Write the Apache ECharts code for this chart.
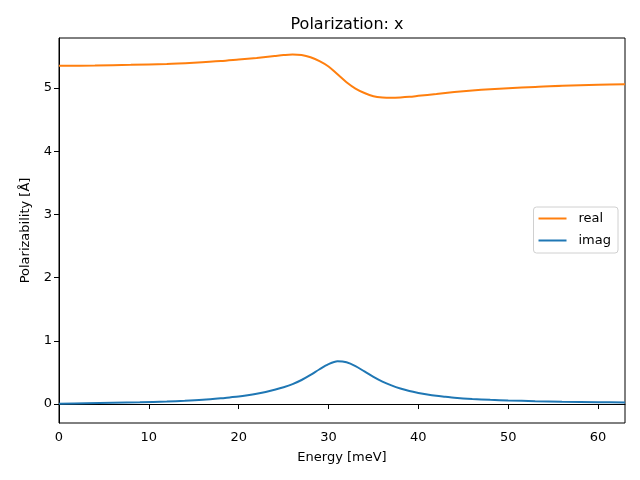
<!DOCTYPE html>
<html><head><meta charset="utf-8">
<script src="https://cdn.jsdelivr.net/npm/echarts@6/dist/echarts.min.js"></script>
<style>html,body{margin:0;padding:0;background:#fff}#c{width:640px;height:480px}</style>
</head><body><div id="c"></div>
<script>
const realE = [0,4,8,12,15,18,20,22,24,25,26,27,28,29,30,31,32,33,34,35,36,37,38,39,40,42,44,46,48,50,53,56,60,63];
const realV = [5.35,5.355,5.365,5.38,5.40,5.425,5.45,5.475,5.505,5.52,5.53,5.52,5.485,5.425,5.34,5.215,5.09,4.99,4.92,4.87,4.85,4.845,4.85,4.86,4.875,4.905,4.935,4.96,4.98,4.995,5.015,5.035,5.05,5.06];
const imagE = [0,3,6,9,12,14,16,18,19,20,21,22,23,24,25,26,27,28,29,30,31,32,33,34,35,36,37,38,39,40,41,42,43,44,46,48,50,53,56,60,63];
const imagV = [0.005,0.012,0.019,0.027,0.039,0.05,0.066,0.09,0.105,0.12,0.14,0.163,0.19,0.225,0.265,0.315,0.38,0.46,0.55,0.63,0.675,0.66,0.6,0.515,0.43,0.355,0.295,0.245,0.205,0.175,0.15,0.13,0.115,0.1,0.08,0.066,0.056,0.045,0.037,0.03,0.026];
const xTicks = [0,10,20,30,40,50,60];
const yTicks = [0,1,2,3,4,5];

const font = 'DejaVu Sans';
const chart = echarts.init(document.getElementById('c'));
chart.setOption({
  animation: false,
  backgroundColor: '#fff',
  textStyle: {fontFamily: font},
  title: {text: 'Polarization: x', left: 342, top: 12, textAlign: 'center',
    textStyle: {fontFamily: font, fontSize: 16, fontWeight: 'normal', color: '#000'}},
  grid: {left: 59, right: 15, top: 38, bottom: 57, show: true, borderColor: '#000', borderWidth: 1, containLabel: false},
  legend: {
    data: ['real', 'imag'], orient: 'vertical', right: 22, top: 207,
    itemWidth: 28, itemHeight: 2, itemGap: 9, icon: 'rect',
    borderColor: '#d0d0d0', borderWidth: 1, borderRadius: 3, padding: [5, 7, 6, 5],
    textStyle: {fontFamily: font, fontSize: 13, color: '#000', padding: [0, 0, 0, 7]}
  },
  xAxis: {
    type: 'value', min: 0, max: 63,
    name: 'Energy [meV]', nameLocation: 'middle', nameGap: 28,
    nameTextStyle: {fontFamily: font, fontSize: 13, color: '#000'},
    axisLine: {show: true, lineStyle: {color: '#000', width: 1}},
    axisTick: {show: true, length: 5, lineStyle: {color: '#000'}, customValues: xTicks},
    axisLabel: {color: '#000', fontSize: 13, fontFamily: font, margin: 8, customValues: xTicks},
    splitLine: {show: false}
  },
  yAxis: {
    type: 'value', min: -0.3, max: 5.79,
    name: 'Polarizability [Å]', nameLocation: 'middle', nameGap: 27,
    nameTextStyle: {fontFamily: font, fontSize: 13, color: '#000'},
    axisLine: {show: true, lineStyle: {color: '#000', width: 1}},
    axisTick: {show: true, length: 5, lineStyle: {color: '#000'}, customValues: yTicks},
    axisLabel: {color: '#000', fontSize: 13, fontFamily: font, margin: 7, customValues: yTicks},
    splitLine: {show: false}
  },
  series: [
    {name: 'real', type: 'line', smooth: 0.3, symbol: 'none', color: '#ff7f0e',
      lineStyle: {width: 2, color: '#ff7f0e'}, data: realE.map((e, i) => [e, realV[i]])},
    {name: 'imag', type: 'line', smooth: 0.3, symbol: 'none', color: '#1f77b4',
      lineStyle: {width: 2, color: '#1f77b4'}, data: imagE.map((e, i) => [e, imagV[i]])}
  ]
});
</script></body></html>
